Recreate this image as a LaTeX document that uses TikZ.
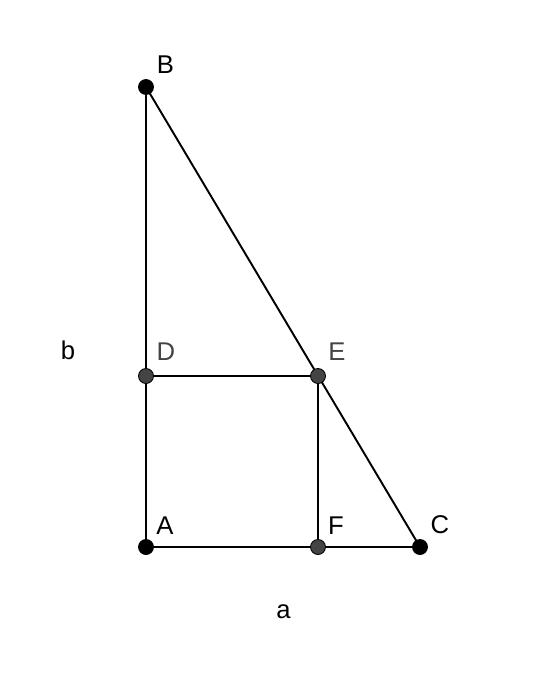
\documentclass[tikz,border=0pt]{standalone}
\usepackage{fontspec}
\setmainfont{Liberation Sans}
\definecolor{ptgray}{HTML}{444444}
\tikzset{
  side/.style={line width=1.1pt},
  dot/.style={circle, draw=black, line width=0.5pt, fill=black, minimum size=0.3cm, inner sep=0pt},
  graydot/.style={dot, fill=ptgray},
  lbl/.style={anchor=base, inner sep=0pt, font=\fontsize{14.6}{17}\selectfont}
}
\begin{document}
\begin{tikzpicture}[x=0.02cm, y=-0.02cm]
    \useasboundingbox (0, 0) rectangle (548, 680);
    \coordinate (A) at (146, 547);
    \coordinate (B) at (146, 87);
    \coordinate (C) at (420, 547);
    \coordinate (D) at (146, 376);
    \coordinate (E) at (318, 376);
    \coordinate (F) at (318, 547);
    \draw [side] (A) -- (B) -- (C) -- cycle;
    \draw [side] (D) -- (E) -- (F);
    \node [dot] (pA) at (A) {};
    \node [dot] (pB) at (B) {};
    \node [dot] (pC) at (C) {};
    \node [graydot] (pD) at (D) {};
    \node [graydot] (pE) at (E) {};
    \node [graydot] (pF) at (F) {};
    \node [lbl] (lA) at (165, 534) {A};
    \node [lbl] (lB) at (165.5, 73) {B};
    \node [lbl] (lC) at (440, 533) {C};
    \node [lbl, ptgray] (lD) at (166, 360.5) {D};
    \node [lbl, ptgray] (lE) at (337, 360.5) {E};
    \node [lbl] (lF) at (336, 534) {F};
    \node [lbl] (la) at (283.5, 618) {a};
    \node [lbl] (lb) at (68, 359) {b};
\end{tikzpicture}
\end{document}
